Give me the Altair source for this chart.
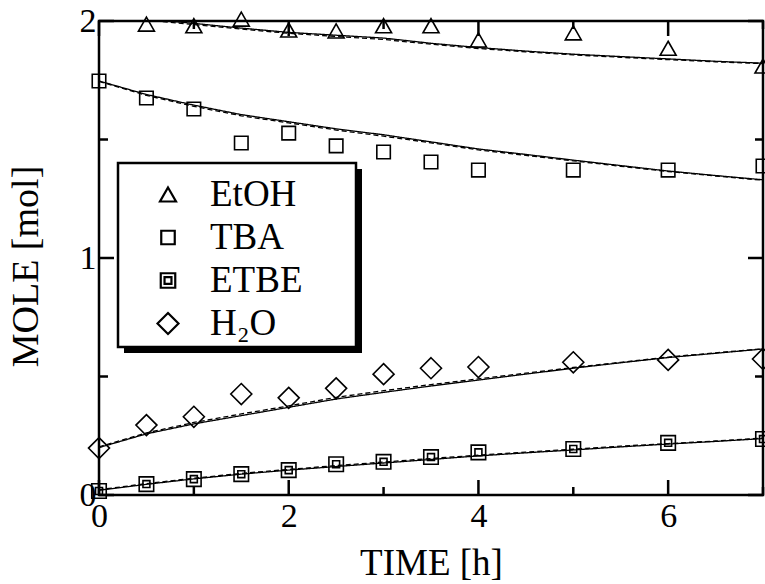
import altair as alt
import pandas as pd

# ---- data ---------------------------------------------------------------
SERIES = ["EtOH", "TBA", "ETBE", "H₂O"]

# model curves (solid = fitted model A, dashed = fitted model B)
t_model = [0, 0.5, 1, 1.5, 2, 2.5, 3, 3.5, 4, 4.5, 5, 5.5, 6, 6.5, 7]
etoh_solid = [2.025, 2.008, 1.990, 1.970, 1.952, 1.940, 1.928, 1.906, 1.888, 1.873, 1.860, 1.850, 1.840, 1.830, 1.822]
etoh_dash = [2.022, 2.004, 1.985, 1.966, 1.948, 1.935, 1.922, 1.902, 1.884, 1.870, 1.857, 1.847, 1.837, 1.828, 1.820]
tba_solid = [1.747, 1.690, 1.645, 1.605, 1.575, 1.545, 1.520, 1.490, 1.460, 1.437, 1.413, 1.390, 1.367, 1.348, 1.330]
tba_dash = [1.745, 1.686, 1.640, 1.600, 1.570, 1.540, 1.514, 1.486, 1.456, 1.433, 1.410, 1.387, 1.365, 1.346, 1.328]
etbe_solid = [0.020, 0.045, 0.068, 0.088, 0.105, 0.120, 0.135, 0.150, 0.165, 0.178, 0.190, 0.203, 0.215, 0.226, 0.238]
etbe_dash = [0.022, 0.048, 0.071, 0.091, 0.108, 0.124, 0.139, 0.154, 0.168, 0.181, 0.193, 0.206, 0.217, 0.228, 0.240]
h2o_solid = [0.200, 0.258, 0.300, 0.335, 0.370, 0.405, 0.433, 0.460, 0.485, 0.510, 0.535, 0.558, 0.580, 0.598, 0.616]
h2o_dash = [0.203, 0.262, 0.306, 0.342, 0.376, 0.412, 0.440, 0.466, 0.490, 0.514, 0.538, 0.560, 0.582, 0.600, 0.617]

# measured moles
t_etoh = [0.5, 1, 1.5, 2, 2.5, 3, 3.5, 4, 5, 6, 7]
etoh_pts = [1.987, 1.980, 2.008, 1.962, 1.958, 1.980, 1.980, 1.920, 1.950, 1.885, 1.810]
t_meas = [0, 0.5, 1, 1.5, 2, 2.5, 3, 3.5, 4, 5, 6, 7]
tba_pts = [1.747, 1.675, 1.629, 1.485, 1.527, 1.473, 1.447, 1.405, 1.371, 1.371, 1.371, 1.388]
etbe_pts = [0.017, 0.046, 0.067, 0.088, 0.105, 0.130, 0.140, 0.160, 0.180, 0.194, 0.220, 0.236]
h2o_pts = [0.198, 0.295, 0.330, 0.426, 0.410, 0.450, 0.510, 0.535, 0.540, 0.560, 0.570, 0.574]

# axis ticks
x_major = [0, 2, 4, 6]
x_minor = [1, 3, 5, 7]
y_major = [0, 1, 2]
y_minor = [0.5, 1.5]

# ---- tables -------------------------------------------------------------
curves = []
for name, solid, dash in [("EtOH", etoh_solid, etoh_dash), ("TBA", tba_solid, tba_dash),
                          ("ETBE", etbe_solid, etbe_dash), ("H₂O", h2o_solid, h2o_dash)]:
    for t, a, b in zip(t_model, solid, dash):
        curves.append({"species": name, "model": "solid", "time": t, "mole": a})
        curves.append({"species": name, "model": "dashed", "time": t, "mole": b})
curves = pd.DataFrame(curves)

meas = []
for name, ts, vals in [("EtOH", t_etoh, etoh_pts), ("TBA", t_meas, tba_pts),
                       ("ETBE", t_meas, etbe_pts), ("H₂O", t_meas, h2o_pts)]:
    for t, v in zip(ts, vals):
        meas.append({"species": name, "time": t, "mole": v})
meas = pd.DataFrame(meas)

# ---- layout -------------------------------------------------------------
W, H = 664, 474
FONT = "Liberation Serif"
xs = alt.Scale(domain=[0, 7], nice=False, zero=False)
ys = alt.Scale(domain=[0, 2], nice=False, zero=False)

X_AXIS = alt.Axis(values=x_major, labelExpr="toString(datum.value)", title="TIME [h]",
                  labelFlush=False, labelOverlap=False, labelPadding=4, titleY=79,
                  titleBaseline="alphabetic", grid=False, domain=False, ticks=False,
                  labelFont=FONT, labelFontSize=34, labelColor="black",
                  titleFont=FONT, titleFontSize=37, titleFontWeight="normal",
                  titleColor="black")
Y_AXIS = alt.Axis(values=y_major, labelExpr="toString(datum.value)", title="MOLE [mol]",
                  labelFlush=False, labelOverlap=False, labelPadding=3, titleX=-62,
                  titleY=245, titleBaseline="alphabetic", grid=False, domain=False,
                  ticks=False, labelFont=FONT, labelFontSize=34, labelColor="black",
                  titleFont=FONT, titleFontSize=38, titleFontWeight="normal",
                  titleColor="black")

# marker outlines in unit coordinates
SHAPES = [
    "M0,-0.667L0.762,0.667L-0.762,0.667Z",
    "M-0.643,-0.643H0.643V0.643H-0.643Z",
    "M-0.69,-0.69H0.69V0.69H-0.69Z M-0.33,-0.33H0.33V0.33H-0.33Z",
    "M0,-1L1,0L0,1L-1,0Z",
]

points = alt.Chart(meas).mark_point(filled=False, size=441, strokeWidth=1.6,
                                    color="black", opacity=1).encode(
    x=alt.X("time:Q", scale=xs, axis=X_AXIS),
    y=alt.Y("mole:Q", scale=ys, axis=Y_AXIS),
    shape=alt.Shape("species:N", scale=alt.Scale(domain=SERIES, range=SHAPES),
                    legend=alt.Legend(title=None, orient="none", legendX=50.5, legendY=155,
                                      padding=0, symbolSize=441, symbolStrokeWidth=2.2,
                                      symbolStrokeColor="black", labelFont=FONT,
                                      labelFontSize=37, labelColor="black",
                                      labelOffset=23.5, rowPadding=5)),
)

lines = alt.Chart(curves).mark_line(color="black", strokeWidth=1.3, clip=True).encode(
    x=alt.X("time:Q", scale=xs, axis=X_AXIS),
    y=alt.Y("mole:Q", scale=ys, axis=Y_AXIS),
    detail="species:N",
    strokeDash=alt.StrokeDash("model:N", scale=alt.Scale(domain=["solid", "dashed"],
                                                         range=[[1, 0], [5, 3]]), legend=None),
)


def tick_layer(values, channel, start, end):
    df = pd.DataFrame({"time": values}) if channel == "x" else pd.DataFrame({"mole": values})
    base = alt.Chart(df).mark_rule(color="black", strokeWidth=2.5)
    if channel == "x":
        return base.encode(x=alt.X("time:Q", scale=xs, axis=X_AXIS),
                           y=alt.value(start), y2=alt.value(end))
    return base.encode(y=alt.Y("mole:Q", scale=ys, axis=Y_AXIS),
                       x=alt.value(start), x2=alt.value(end))


ticks = [
    tick_layer(x_major, "x", H, H - 15), tick_layer(x_minor, "x", H, H - 8),
    tick_layer(x_major, "x", 0, 15), tick_layer(x_minor, "x", 0, 8),
    tick_layer(y_major, "y", 0, 15), tick_layer(y_minor, "y", 0, 9),
    tick_layer(y_major, "y", W, W - 15), tick_layer(y_minor, "y", W, W - 8),
]

one = pd.DataFrame({"k": [0]})
shadow = alt.Chart(one).mark_rect(color="black").encode(
    x=alt.value(25), x2=alt.value(263), y=alt.value(148), y2=alt.value(332))
box = alt.Chart(one).mark_rect(fill="white", stroke="black", strokeWidth=2.5).encode(
    x=alt.value(19), x2=alt.value(257), y=alt.value(142), y2=alt.value(326))

chart = alt.layer(points, lines, *ticks, shadow, box).properties(
    width=W, height=H,
    autosize=alt.AutoSizeParams(type="none"),
    padding={"left": 99, "top": 21, "right": 2, "bottom": 89},
    background="white",
).configure_view(
    stroke="black", strokeWidth=2.5
)

chart.save("out.html", embed_options={"renderer": "svg", "actions": False})
